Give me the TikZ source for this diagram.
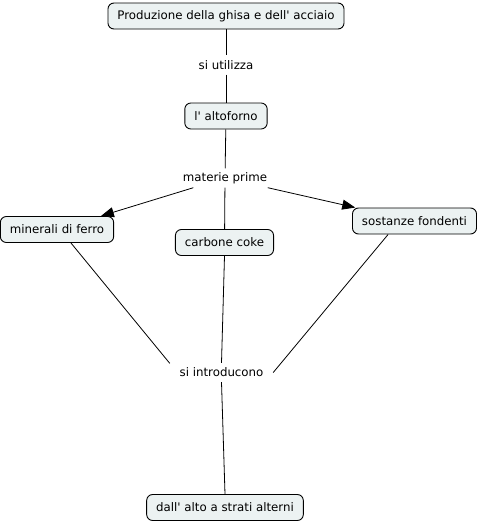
\documentclass[tikz,border=0pt]{standalone}
\usepackage{fontspec}
\setmainfont{DejaVu Sans}
\usetikzlibrary{arrows.meta}
\definecolor{boxfill}{RGB}{236,242,242}
\begin{document}
\begin{tikzpicture}[x=1pt,y=-1pt,
  concept/.style={draw=black, fill=boxfill, rounded corners=6pt, line width=0.9pt,
     minimum height=26pt, inner xsep=9.5pt, inner ysep=2pt, font=\fontsize{11.8}{13}\selectfont},
  linkphrase/.style={inner xsep=4pt, inner ysep=3pt, minimum height=19pt, font=\fontsize{11.8}{13}\selectfont},
  conn/.style={draw=black, line width=0.8pt},
  arr/.style={conn, -{Triangle[length=13pt,width=10pt]}}]
\useasboundingbox (0,0) rectangle (479,522);
\node[concept] (prod) at (226,16) {Produzione della ghisa e dell\textquotesingle{} acciaio};
\node[linkphrase] (util) at (226,65) {si utilizza};
\node[concept] (alto) at (226,116) {l\textquotesingle{} altoforno};
\node[linkphrase] (mat) at (225,178) {materie prime};
\node[concept] (min) at (57,229.5) {minerali di ferro};
\node[concept] (coke) at (224.5,242.5) {carbone coke};
\node[concept] (sost) at (414.5,221) {sostanze fondenti};
\node[linkphrase, minimum width=103pt] (intro) at (221.5,372.5) {si introducono};
\node[concept] (dall) at (225,507.5) {dall\textquotesingle{} alto a strati alterni};
\draw[conn] (prod) -- (util);
\draw[conn] (util) -- (alto);
\draw[conn] (alto) -- (mat);
\draw[arr] (mat) -- (min);
\draw[arr] (mat) -- (sost);
\draw[conn] (mat) -- (coke);
\draw[conn] (min.-44) -- (intro.170);
\draw[conn] (coke.south) -- (intro.north);
\draw[conn] (sost.207) -- (intro.east);
\draw[conn] (intro.south) -- (dall.north);
\end{tikzpicture}
\end{document}
